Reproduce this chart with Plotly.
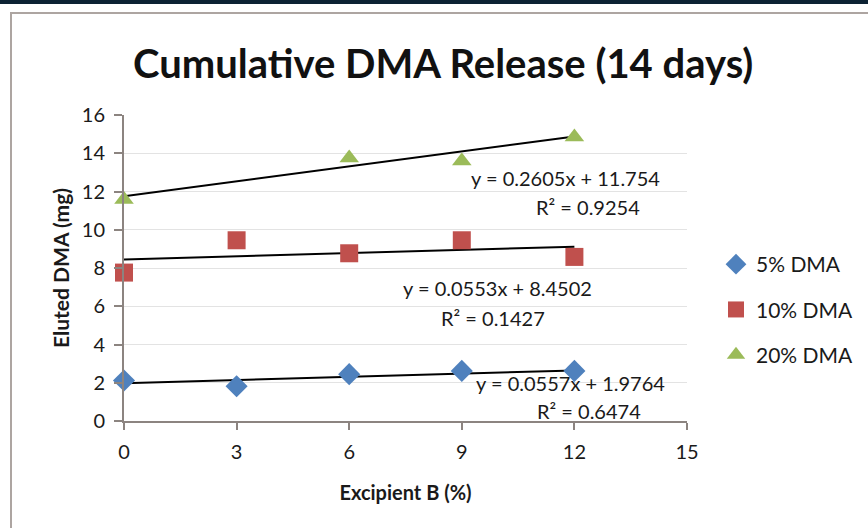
import plotly.graph_objects as go

# ---- data ----
x_vals = [0, 3, 6, 9, 12]
dma5 = [2.12, 1.82, 2.45, 2.62, 2.62]
dma10 = [7.76, 9.45, 8.77, 9.45, 8.58]
x_20 = [0, 6, 9, 12]
dma20 = [11.58, 13.75, 13.6, 14.85]

series_names = ["5% DMA", "10% DMA", "20% DMA"]
slopes = [0.0557, 0.0553, 0.2605]
intercepts = [1.9764, 8.4502, 11.754]
r2 = [0.6474, 0.1427, 0.9254]

x_ticks = [0, 3, 6, 9, 12, 15]
y_ticks = [0, 2, 4, 6, 8, 10, 12, 14, 16]

colors = ["#4F81BD", "#C0504D", "#9BBB59"]
symbols = ["diamond", "square", "triangle-up"]
sizes = [17, 18, 17]

FONT = "Lato, 'Open Sans', sans-serif"
TXT = "#1a1a1a"

# plot-area geometry in pixels (for placing decorations)
L, R, T, B = 124, 687, 115, 421
PW, PH = R - L, B - T


def px(xp):
    return (xp - L) / PW


def py(yp):
    return (B - yp) / PH


fig = go.Figure()

xs_list = [x_vals, x_vals, x_20]
ys_list = [dma5, dma10, dma20]

# trendlines
for i in range(3):
    xs = xs_list[i]
    x0, x1 = min(xs), max(xs)
    fig.add_trace(go.Scatter(
        x=[x0, x1],
        y=[slopes[i] * x0 + intercepts[i], slopes[i] * x1 + intercepts[i]],
        mode="lines", line=dict(color="black", width=2),
        showlegend=False, hoverinfo="skip", cliponaxis=False))

for i in range(3):
    fig.add_trace(go.Scatter(
        x=xs_list[i], y=ys_list[i], mode="markers", name=series_names[i],
        legendgroup=series_names[i], cliponaxis=False,
        marker=dict(symbol=symbols[i], size=sizes[i], color=colors[i],
                    line=dict(width=0))))

# equation labels (pixel centres of each text line)
eq_px = [
    ((570, 383), (589, 411)),
    ((497, 288), (493, 318)),
    ((565, 178), (588, 207)),
]
annotations = []
for i in range(3):
    (ex, ey), (rx, ry) = eq_px[i]
    annotations.append(dict(x=px(ex), y=py(ey), xref="paper", yref="paper", showarrow=False,
                            xanchor="center", yanchor="middle",
                            text=f"y = {slopes[i]}x + {intercepts[i]}",
                            font=dict(family=FONT, size=20, color=TXT)))
    annotations.append(dict(x=px(rx), y=py(ry), xref="paper", yref="paper", showarrow=False,
                            xanchor="center", yanchor="middle",
                            text=f"R² = {r2[i]}",
                            font=dict(family=FONT, size=20, color=TXT)))

# title
annotations.append(dict(x=px(443), y=py(63), xref="paper", yref="paper",
                        xanchor="center", yanchor="middle",
                        showarrow=False, text="<b>Cumulative DMA Release (14 days)</b>",
                        font=dict(family=FONT, size=40, color="#111111")))

shapes = [
    # outer chart border
    dict(type="rect", xref="paper", yref="paper",
         x0=px(11), x1=px(900), y0=py(560), y1=py(13),
         line=dict(color="#ada5a1", width=2), fillcolor="rgba(0,0,0,0)", layer="below"),
    # dark top band
    dict(type="rect", xref="paper", yref="paper",
         x0=px(-5), x1=px(900), y0=py(4), y1=py(-5),
         line=dict(width=0), fillcolor="#0d2233", layer="below"),
]

fig.update_layout(
    width=868, height=528,
    margin=dict(l=L, r=868 - R, t=T, b=528 - B, autoexpand=False),
    paper_bgcolor="white", plot_bgcolor="white",
    font=dict(family=FONT, size=20, color=TXT),
    showlegend=True,
    legend=dict(x=px(716), y=py(244), xanchor="left", yanchor="top",
                font=dict(family=FONT, size=21, color=TXT),
                tracegroupgap=15, itemwidth=30, bgcolor="rgba(0,0,0,0)"),
    annotations=annotations,
    shapes=shapes,
    xaxis=dict(range=[0, 15], tickvals=x_ticks, showgrid=False, zeroline=False,
               showline=True, linecolor="#8c8480", linewidth=2,
               ticks="outside", ticklen=7, tickcolor="#8c8480", tickwidth=1.5,
               ticklabelstandoff=5,
               tickfont=dict(family=FONT, size=20, color=TXT),
               title=dict(text="<b>Excipient B (%)</b>", standoff=24,
                          font=dict(family=FONT, size=20, color=TXT))),
    yaxis=dict(range=[0, 16], tickvals=y_ticks, showgrid=True, gridcolor="#e3e3e3",
               gridwidth=1, zeroline=False,
               showline=True, linecolor="#8c8480", linewidth=2,
               ticks="outside", ticklen=8, tickcolor="#8c8480", tickwidth=1.5,
               ticklabelstandoff=5,
               tickfont=dict(family=FONT, size=20, color=TXT),
               title=dict(text="<b>Eluted DMA (mg)</b>", standoff=6,
                          font=dict(family=FONT, size=21, color=TXT))),
)

fig.write_html("out.html")
